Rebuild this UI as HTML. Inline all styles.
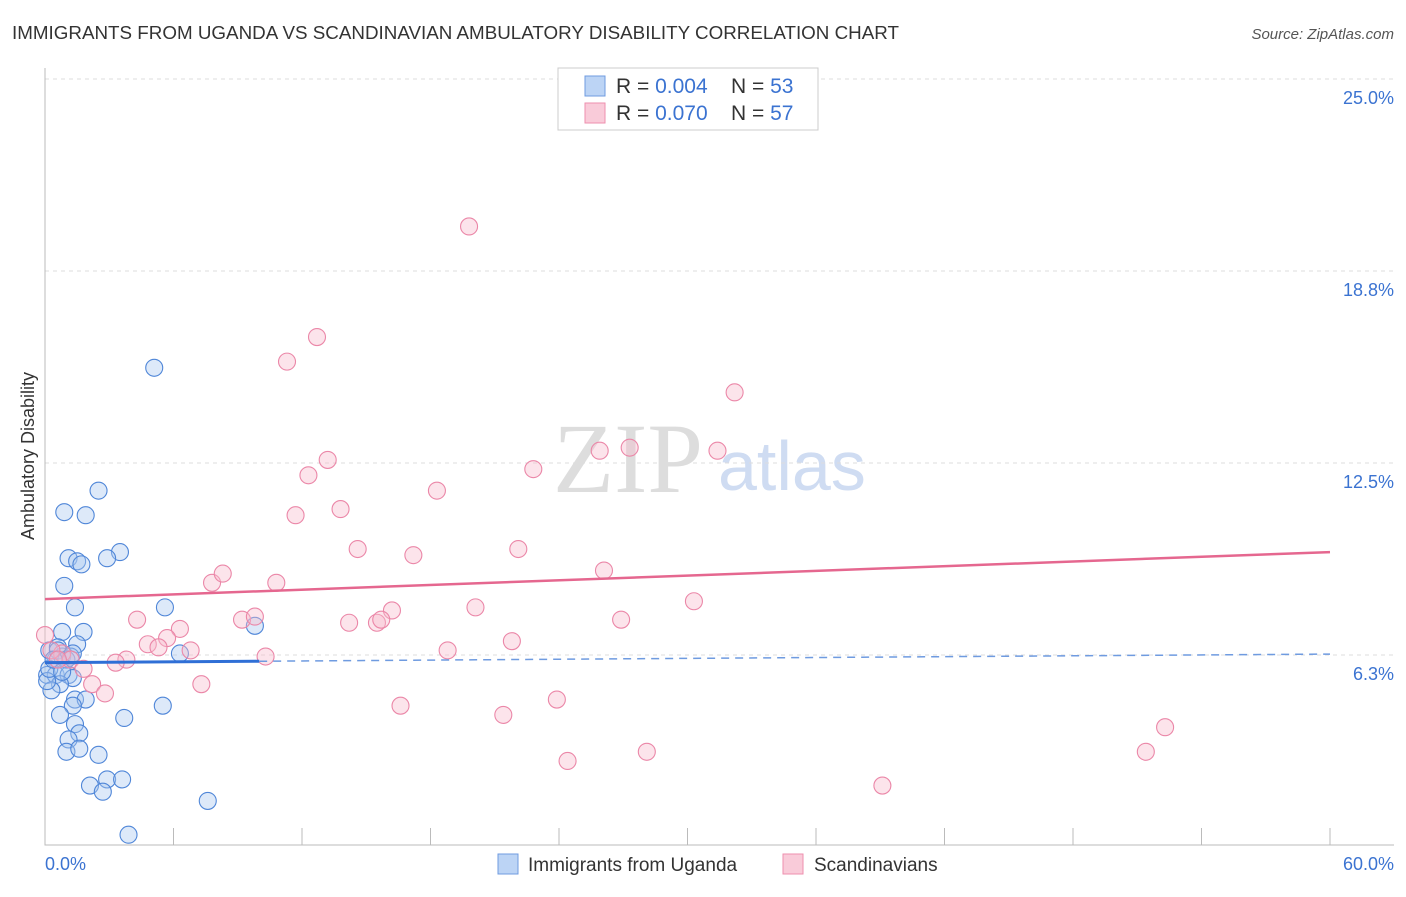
<!DOCTYPE html>
<html><head><meta charset="utf-8"><style>
body{margin:0;background:#fff;font-family:"Liberation Sans",sans-serif}
svg text{font-family:"Liberation Sans",sans-serif}
</style></head><body>
<svg width="1406" height="892" xmlns="http://www.w3.org/2000/svg">
<text x="12" y="39" font-size="18" fill="#333" textLength="887" lengthAdjust="spacingAndGlyphs">IMMIGRANTS FROM UGANDA VS SCANDINAVIAN AMBULATORY DISABILITY CORRELATION CHART</text>
<text x="1394" y="39" font-size="15" fill="#555" font-style="italic" text-anchor="end">Source: ZipAtlas.com</text>
<text x="553" y="492" font-size="100" fill="#ddd" style="font-family:'Liberation Serif',serif">ZIP</text>
<text x="718" y="490" font-size="70" fill="#cfdcf2">atlas</text>
<g id="grid"></g>
<g id="axes"></g>
<g id="marks"></g>
<text transform="translate(34,456) rotate(-90)" font-size="18" fill="#333" text-anchor="middle">Ambulatory Disability</text>
<text x="45" y="870" font-size="18" fill="#3b73d1">0.0%</text>
<text x="1394" y="870" font-size="18" fill="#3b73d1" text-anchor="end">60.0%</text>
<g>
<rect x="558" y="68" width="260" height="62" fill="#fff" stroke="#ccc"/>
<rect x="585" y="76" width="20" height="20" fill="#bcd4f5" stroke="#6f9be0"/>
<rect x="585" y="103" width="20" height="20" fill="#f9cbd9" stroke="#ee8fae"/>
<text x="616" y="93" font-size="21" fill="#333">R = <tspan fill="#3b73d1">0.004</tspan><tspan x="731">N = </tspan><tspan fill="#3b73d1">53</tspan></text>
<text x="616" y="120" font-size="21" fill="#333">R = <tspan fill="#3b73d1">0.070</tspan><tspan x="731">N = </tspan><tspan fill="#3b73d1">57</tspan></text>
</g>
<g>
<rect x="498" y="854" width="20" height="20" fill="#bcd4f5" stroke="#6f9be0"/>
<text x="528" y="871" font-size="19" fill="#333">Immigrants from Uganda</text>
<rect x="783" y="854" width="20" height="20" fill="#f9cbd9" stroke="#ee8fae"/>
<text x="814" y="871" font-size="19" fill="#333">Scandinavians</text>
</g>
</svg>
<script>
const yTicks=[6.25,12.5,18.75,25];
const yTickLabels=["6.3%","12.5%","18.8%","25.0%"];
const xTicks=[0,6,12,18,24,30,36,42,48,54,60];
const ugandaX=[5.1,2.5,0.9,1.9,1.1,1.5,1.7,3.5,2.9,0.9,1.4,5.6,0.8,1.8,9.8,1.5,0.2,0.6,0.5,0.8,1.2,0.1,0.5,1.1,1.3,0.7,0.3,6.3,1.4,1.9,1.3,5.5,0.7,3.7,1.4,1.6,1.1,1.0,1.6,2.5,2.1,2.9,3.6,2.7,7.6,3.9,0.1,0.6,1.0,1.3,0.2,0.4,0.8];
const ugandaY=[15.6,11.6,10.9,10.8,9.4,9.3,9.2,9.6,9.4,8.5,7.8,7.8,7.0,7.0,7.2,6.6,6.4,6.5,6.1,6.2,6.2,5.6,5.6,5.6,5.5,5.3,5.1,6.3,4.8,4.8,4.6,4.6,4.3,4.2,4.0,3.7,3.5,3.1,3.2,3.0,2.0,2.2,2.2,1.8,1.5,0.4,5.4,6.4,6.1,6.3,5.8,6.1,5.7];
const scandX=[19.8,12.7,11.3,32.2,25.9,27.3,31.4,13.2,22.8,12.3,18.3,11.7,13.8,14.6,17.2,22.1,26.1,7.8,8.3,10.8,20.1,16.2,30.3,4.3,9.2,9.8,14.2,15.5,15.7,26.9,6.3,4.8,5.7,5.3,6.8,21.8,18.8,10.3,3.8,3.3,0.0,0.8,1.2,1.8,2.2,2.8,7.3,16.6,23.9,21.4,52.3,51.4,28.1,24.4,39.1,0.3,0.6];
const scandY=[20.2,16.6,15.8,14.8,12.9,13.0,12.9,12.6,12.3,12.1,11.6,10.8,11.0,9.7,9.5,9.7,9.0,8.6,8.9,8.6,7.8,7.7,8.0,7.4,7.4,7.5,7.3,7.3,7.4,7.4,7.1,6.6,6.8,6.5,6.4,6.7,6.4,6.2,6.1,6.0,6.9,6.3,6.1,5.8,5.3,5.0,5.3,4.6,4.8,4.3,3.9,3.1,3.1,2.8,2.0,6.4,6.1];
const ugandaTrend=[6.0,6.28];
const scandTrend=[8.07,9.6];
const NS="http://www.w3.org/2000/svg";
const X=v=>45+v*1285/60, Y=v=>847-v*30.72;
function mk(t,a,p){const e=document.createElementNS(NS,t);for(const k in a)e.setAttribute(k,a[k]);p.appendChild(e);return e;}
const grid=document.getElementById('grid'),axes=document.getElementById('axes'),marks=document.getElementById('marks');
yTicks.forEach((v,i)=>{
 const l=mk('line',{x1:45,x2:1394,y1:Y(v),y2:Y(v),stroke:'#ddd','stroke-dasharray':'4,4'},grid);
 
 
 const t=mk('text',{x:1394,y:Y(v)+25,'font-size':18,fill:'#3b73d1','text-anchor':'end'},grid);
 t.textContent=yTickLabels[i];
 
 
});
const ax=mk('path',{d:'M45,68V845H1394',fill:'none',stroke:'#bbb'},axes);


xTicks.forEach(v=>{
 const l=mk('line',{x1:X(v),x2:X(v),y1:828,y2:845,stroke:'#bbb'},axes);
 
 
});
function pts(xs,ys,fill,stroke,name){
 xs.forEach((x,i)=>{
  const c=mk('circle',{cx:X(x),cy:Y(ys[i]),r:8.5,fill:fill,'fill-opacity':0.4,stroke:stroke,'stroke-width':1.1},marks);
  
  
 });
}
pts(ugandaX,ugandaY,'#aac8f0','#4f86d8','uganda-point');
pts(scandX,scandY,'#f7bccd','#eb87a8','scandinavian-point');
const ut=t=>ugandaTrend[0]+(ugandaTrend[1]-ugandaTrend[0])*t/60;
let l=mk('line',{x1:X(0),x2:X(10),y1:Y(ut(0)),y2:Y(ut(10)),stroke:'#2f6fd6','stroke-width':3},marks);


l=mk('line',{x1:X(10),x2:X(60),y1:Y(ut(10)),y2:Y(ut(60)),stroke:'#6f9be0','stroke-width':1.5,'stroke-dasharray':'8,6'},marks);


l=mk('line',{x1:X(0),x2:X(60),y1:Y(scandTrend[0]),y2:Y(scandTrend[1]),stroke:'#e5678f','stroke-width':2.5},marks);


</script>
</body></html>
